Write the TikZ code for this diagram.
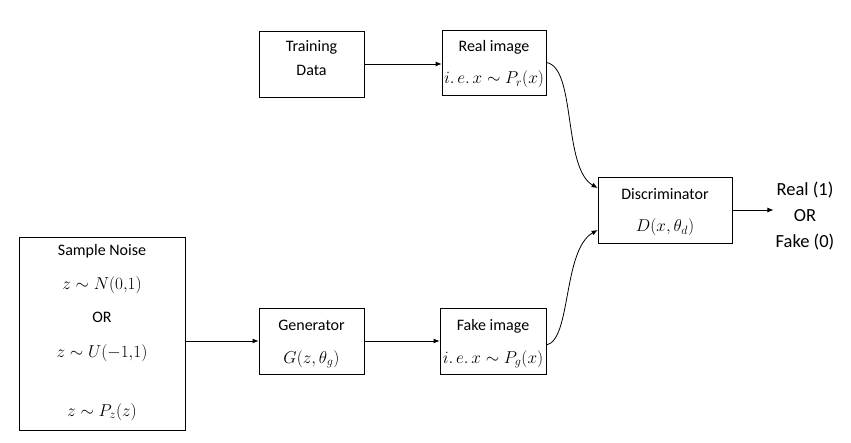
\RequirePackage{fix-cm}
\documentclass[tikz,border=0pt]{standalone}
\usepackage{fontspec}
\setmainfont{Carlito}
\usetikzlibrary{arrows.meta}
\newcommand{\mth}[1]{{\fontsize{17.2}{20}\selectfont$#1$}}
\begin{document}
\begin{tikzpicture}[x=1pt,y=-1pt,
  font=\fontsize{16}{19}\selectfont,
  box/.style={draw, line width=0.8pt, inner sep=0pt},
  txt/.style={inner sep=0pt, anchor=base},
  arr/.style={line width=0.8pt, -{Latex[length=6pt,width=5pt]}}]
\useasboundingbox (0,0) rectangle (851,443);
% boxes
\node[box, minimum width=166pt, minimum height=193pt] (sample) at (102,333.5) {};
\node[box, minimum width=105pt, minimum height=66pt] (train) at (311.5,64) {};
\node[box, minimum width=104pt, minimum height=65pt] (real) at (494,62.5) {};
\node[box, minimum width=105pt, minimum height=66pt] (gen) at (311.5,341) {};
\node[box, minimum width=106pt, minimum height=66pt] (fake) at (493,341) {};
\node[box, minimum width=134pt, minimum height=66pt] (disc) at (665,210) {};
% texts
\node[txt] (s1) at (102,256) {Sample Noise};
\node[txt] (s2) at (102,290) {\mth{z\sim N(0{,}1)}};
\node[txt] (s3) at (102,323) {OR};
\node[txt] (s4) at (102,358) {\mth{z\sim U(-1{,}1)}};
\node[txt] (s5) at (102,416) {\mth{z\sim P_z(z)}};
\node[txt] (t1) at (311.5,52) {Training};
\node[txt] (t2) at (311.5,76) {Data};
\node[txt] (r1) at (494,52) {Real image};
\node[txt] (r2) at (494,84) {\mth{i.\,e.\,x\sim P_r(x)}};
\node[txt] (g1) at (311.5,331) {Generator};
\node[txt] (g2) at (311.5,363) {\mth{G(z,\theta_g)}};
\node[txt] (f1) at (493,331) {Fake image};
\node[txt] (f2) at (493,363) {\mth{i.\,e.\,x\sim P_g(x)}};
\node[txt] (d1) at (665,200) {Discriminator};
\node[txt] (d2) at (665,232) {\mth{D(x,\theta_d)}};
\node[inner sep=0pt, align=center, font=\fontsize{18.5}{26}\selectfont] (out) at (805,216) {Real (1)\\OR\\Fake (0)};
% connectors
\draw[arr] (train.east) -- (real.west |- train.east);
\draw[arr] (sample.east |- gen.west) -- (gen.west);
\draw[arr] (gen.east) -- (fake.west);
\draw[arr] (disc.east) -- ([xshift=-2pt]out.west |- disc.east);
\draw[arr] (real.east) .. controls +(30,5) and +(-35,-20) .. ([yshift=22pt]disc.west);
\draw[arr] ([yshift=-4pt]fake.east) .. controls +(25,-5) and +(-35,20) .. ([yshift=-20pt]disc.west);
\end{tikzpicture}
\end{document}
